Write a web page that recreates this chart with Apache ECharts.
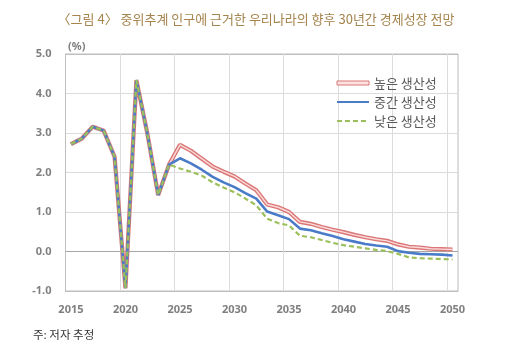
<!DOCTYPE html>
<html>
<head>
<meta charset="utf-8">
<script src="https://cdn.jsdelivr.net/npm/echarts@6/dist/echarts.min.js"></script>
<style>
html,body{margin:0;padding:0;background:#fff;}
#c{width:512px;height:353px;}
</style>
</head>
<body>
<div id="c"></div>
<script>
var years = [];
for (var y = 2015; y <= 2050; y++) years.push(String(y));

var high = [2.72, 2.86, 3.16, 3.06, 2.40, -0.93, 4.34, 3.00, 1.43, 2.20,
  2.70, 2.55, 2.35, 2.15, 2.02, 1.90, 1.72, 1.55, 1.19, 1.12,
  1.00, 0.75, 0.70, 0.62, 0.55, 0.49, 0.42, 0.36, 0.31, 0.27,
  0.18, 0.12, 0.10, 0.07, 0.06, 0.05];
var mid = [2.72, 2.86, 3.16, 3.06, 2.40, -0.93, 4.34, 3.00, 1.43, 2.20,
  2.36, 2.23, 2.07, 1.89, 1.75, 1.63, 1.48, 1.34, 1.01, 0.92,
  0.82, 0.58, 0.54, 0.46, 0.39, 0.31, 0.25, 0.19, 0.15, 0.12,
  0.01, -0.03, -0.06, -0.07, -0.08, -0.10];
var low = [2.72, 2.86, 3.16, 3.06, 2.40, -0.93, 4.34, 3.00, 1.43, 2.20,
  2.10, 2.02, 1.92, 1.75, 1.62, 1.50, 1.34, 1.17, 0.83, 0.72,
  0.66, 0.40, 0.36, 0.29, 0.22, 0.16, 0.12, 0.08, 0.04, 0.01,
  -0.06, -0.15, -0.17, -0.18, -0.19, -0.20];

var seriesNames = ['높은 생산성', '중간 생산성', '낮은 생산성'];
var yTicks = [-1, 0, 1, 2, 3, 4, 5];

var chart = echarts.init(document.getElementById('c'), null, {renderer: 'canvas'});
var lblFont = {color: '#7f7f7f', fontSize: 11, fontWeight: 'bold', fontFamily: 'Noto Sans, DejaVu Sans, sans-serif'};
var clear = 'rgba(0,0,0,0)';

chart.setOption({
  animation: false,
  backgroundColor: '#ffffff',
  title: [{
    text: '〈그림 4〉 중위추계 인구에 근거한 우리나라의 향후 30년간 경제성장 전망',
    left: 'center', top: 8,
    textStyle: {color: '#a5844e', fontSize: 13, fontWeight: 'normal', fontFamily: 'Noto Sans CJK KR, sans-serif'}
  }, {
    text: '주: 저자 추정',
    left: 28, top: 324,
    textStyle: {color: '#333333', fontSize: 11.5, fontWeight: 'normal', fontFamily: 'Noto Sans CJK KR, sans-serif'}
  }, {
    text: '(%)',
    left: 63, top: 36,
    textStyle: {color: '#7f7f7f', fontSize: 11, fontWeight: 'bold', fontFamily: 'Noto Sans, DejaVu Sans, sans-serif'}
  }],
  legend: {
    orient: 'vertical',
    left: 336, top: 76, padding: 0,
    itemWidth: 32, itemHeight: 4,
    itemGap: 5,
    textStyle: {color: '#595959', fontSize: 13, lineHeight: 14, fontFamily: 'Noto Sans CJK KR, sans-serif'},
    data: [
      {name: seriesNames[0], icon: 'rect', itemStyle: {color: '#fbe2e2', borderColor: '#dc7676', borderWidth: 1}},
      {name: seriesNames[1], itemStyle: {color: clear, borderColor: clear}},
      {name: seriesNames[2], itemStyle: {color: clear, borderColor: clear}}
    ]
  },
  grid: {
    left: 65.5, right: 54, top: 54, bottom: 62,
    show: true, borderColor: '#bfbfbf', borderWidth: 1
  },
  xAxis: {
    type: 'category',
    data: years,
    boundaryGap: true,
    axisLine: {show: true, onZero: false, lineStyle: {color: '#bfbfbf'}},
    axisTick: {show: false},
    axisLabel: Object.assign({interval: 4, margin: 13}, lblFont),
    splitLine: {show: true, interval: 4, lineStyle: {color: '#dcdcdc', width: 1}}
  },
  yAxis: {
    type: 'value',
    min: yTicks[0], max: yTicks[yTicks.length - 1], interval: 1,
    axisLine: {show: true, lineStyle: {color: '#bfbfbf'}},
    axisTick: {show: false},
    axisLabel: Object.assign({margin: 14, formatter: function (v) { return v.toFixed(1); }}, lblFont),
    splitLine: {show: true, lineStyle: {color: ['#bfbfbf', '#a6a6a6', '#dcdcdc', '#dcdcdc', '#dcdcdc', '#dcdcdc', '#bfbfbf'], width: 1}}
  },
  series: [
    {
      name: seriesNames[0], type: 'line', data: high, symbol: 'none',
      lineStyle: {color: '#dc7676', width: 4.2}, itemStyle: {color: '#dc7676'}, z: 2
    },
    {
      name: seriesNames[0] + '_inner', type: 'line', data: high, symbol: 'none',
      lineStyle: {color: '#f8dada', width: 1.4}, z: 3, silent: true
    },
    {
      name: seriesNames[1], type: 'line', data: mid, symbol: 'none',
      lineStyle: {color: '#4a7bc8', width: 2.6}, itemStyle: {color: '#4a7bc8'}, z: 4
    },
    {
      name: seriesNames[2], type: 'line', data: low, symbol: 'none',
      lineStyle: {color: '#9bc05a', width: 2.2, type: [5, 3]}, itemStyle: {color: '#9bc05a'}, z: 5
    }
  ]
});
</script>
</body>
</html>
